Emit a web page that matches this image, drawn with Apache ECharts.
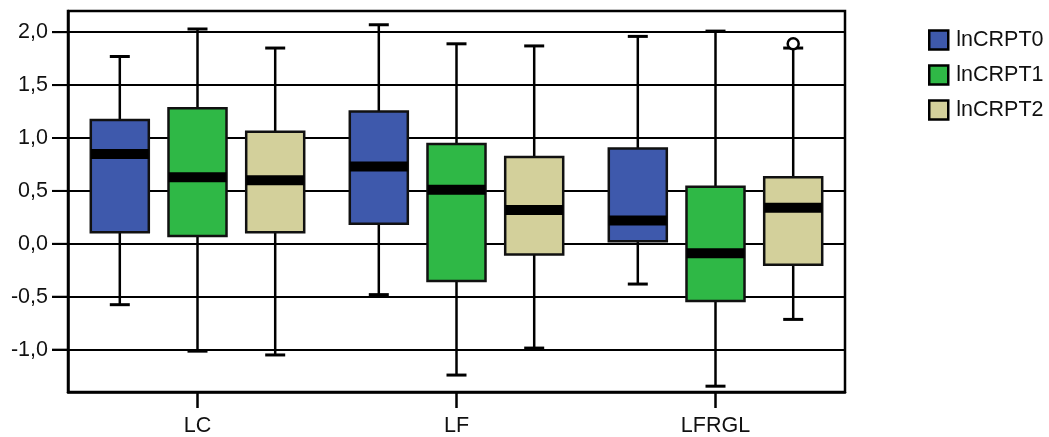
<!DOCTYPE html>
<html><head><meta charset="utf-8">
<script src="https://cdn.jsdelivr.net/npm/echarts@6/dist/echarts.min.js"></script>
<style>html,body{margin:0;padding:0;background:#fff}#c{width:1049px;height:437px}</style>
</head><body><div id="c"></div>
<script>
const categories = ['LC', 'LF', 'LFRGL'];
const seriesNames = ['lnCRPT0', 'lnCRPT1', 'lnCRPT2'];
const colors = ['#3e59ac', '#2fb846', '#d3d09b'];
// [min, Q1, median, Q3, max] per category
const lnCRPT0 = [[-0.575, 0.11, 0.85, 1.17, 1.77], [-0.48, 0.19, 0.73, 1.25, 2.07], [-0.38, 0.024, 0.22, 0.90, 1.96]];
const lnCRPT1 = [[-1.014, 0.074, 0.63, 1.28, 2.03], [-1.24, -0.35, 0.51, 0.944, 1.89], [-1.345, -0.54, -0.09, 0.54, 2.01]];
const lnCRPT2 = [[-1.05, 0.11, 0.60, 1.06, 1.85], [-0.985, -0.10, 0.32, 0.82, 1.87], [-0.714, -0.197, 0.34, 0.63, 1.85]];
const outliers2 = [[2, 1.89]];
const yTicks = [-1.0, -0.5, 0.0, 0.5, 1.0, 1.5, 2.0];

const groups = [lnCRPT0, lnCRPT1, lnCRPT2];
const offsets = [-0.3, 0, 0.3];
const boxFrac = 0.224;
const FONT = 'Liberation Sans, Arial, sans-serif';
const TICK_COLOR = '#000';

function boxRender(gi) {
  return function (params, api) {
    const c = api.value(0);
    const band = api.size([1, 0])[0];
    const cx = api.coord([c, 0])[0] + offsets[gi] * band;
    const yMin = api.coord([c, api.value(1)])[1];
    const yQ1 = api.coord([c, api.value(2)])[1];
    const yMed = api.coord([c, api.value(3)])[1];
    const yQ3 = api.coord([c, api.value(4)])[1];
    const yMax = api.coord([c, api.value(5)])[1];
    const w = band * boxFrac;
    const capW = 20;
    const ls = { stroke: '#000', lineWidth: 2.5 };
    return {
      type: 'group',
      children: [
        { type: 'line', shape: { x1: cx, y1: yMax, x2: cx, y2: yQ3 }, style: ls },
        { type: 'line', shape: { x1: cx, y1: yQ1, x2: cx, y2: yMin }, style: ls },
        { type: 'line', shape: { x1: cx - capW / 2, y1: yMax, x2: cx + capW / 2, y2: yMax }, style: { stroke: '#000', lineWidth: 3 } },
        { type: 'line', shape: { x1: cx - capW / 2, y1: yMin, x2: cx + capW / 2, y2: yMin }, style: { stroke: '#000', lineWidth: 3 } },
        { type: 'rect', shape: { x: cx - w / 2, y: yQ3, width: w, height: yQ1 - yQ3 }, style: { fill: colors[gi], stroke: '#111', lineWidth: 2.5 } },
        { type: 'rect', shape: { x: cx - w / 2, y: yMed - 5, width: w, height: 10 }, style: { fill: '#000' } }
      ]
    };
  };
}

const series = groups.map((g, gi) => ({
  name: seriesNames[gi],
  type: 'custom',
  itemStyle: { color: colors[gi] },
  encode: { x: 0, y: [1, 2, 3, 4, 5] },
  data: g.map((v, ci) => [ci].concat(v)),
  renderItem: boxRender(gi),
  z: 3
}));

series.push({
  name: seriesNames[2],
  type: 'custom',
  itemStyle: { color: colors[2] },
  encode: { x: 0, y: 1 },
  data: outliers2,
  z: 4,
  renderItem: function (params, api) {
    const c = api.value(0);
    const band = api.size([1, 0])[0];
    const p = api.coord([c, api.value(1)]);
    return { type: 'circle', shape: { cx: p[0] + offsets[2] * band, cy: p[1], r: 5.5 }, style: { fill: '#fff', stroke: '#000', lineWidth: 2.5 } };
  }
});

// y-axis tick marks outside the plot, positioned via the y scale
series.push({
  name: 'yTicks',
  type: 'custom',
  clip: false,
  encode: { x: 0, y: 1 },
  data: yTicks.map(v => [0, v]),
  z: 10,
  renderItem: function (params, api) {
    const y = api.coord([0, api.value(1)])[1];
    const x0 = api.coord([0, 0])[0] - api.size([1, 0])[0] / 2;
    return { type: 'line', shape: { x1: x0 - 16, y1: y, x2: x0 + 1, y2: y }, style: { stroke: TICK_COLOR, lineWidth: 2 } };
  }
});

const chart = echarts.init(document.getElementById('c'));
chart.setOption({
  animation: false,
  backgroundColor: '#fff',
  grid: { left: 68, top: 11, right: 204, bottom: 45, show: true, borderColor: '#000', borderWidth: 2.5, backgroundColor: 'transparent' },
  legend: {
    orient: 'vertical', left: 923, top: 24,
    data: seriesNames,
    icon: 'rect', itemWidth: 19, itemHeight: 19, itemGap: 13,
    itemStyle: { borderColor: '#000', borderWidth: 2.5 },
    textStyle: { fontFamily: FONT, fontSize: 21.5, color: '#111', padding: [0, 0, 0, 3] }
  },
  xAxis: {
    type: 'category', data: categories, boundaryGap: true,
    axisLine: { show: true, onZero: false, lineStyle: { color: '#000', width: 2.5 } },
    axisTick: { show: true, inside: false, alignWithLabel: true, length: 16, lineStyle: { color: '#000', width: 2.5 } },
    axisLabel: { fontFamily: FONT, fontSize: 21.5, color: '#111', margin: 23 },
    splitLine: { show: false }
  },
  yAxis: {
    type: 'value', min: -1.4, max: 2.2,
    axisLine: { show: true, onZero: false, lineStyle: { color: '#000', width: 2.5 } },
    axisTick: { show: true, inside: false, customValues: yTicks, length: 16, lineStyle: { color: '#000', width: 2 } },
    axisLabel: { customValues: yTicks, fontFamily: FONT, fontSize: 21.5, color: '#111', margin: 20,
      formatter: v => v.toFixed(1).replace('.', ',') },
    splitLine: { show: true, lineStyle: { color: '#000', width: 2 } }
  },
  series: series
});
</script></body></html>
